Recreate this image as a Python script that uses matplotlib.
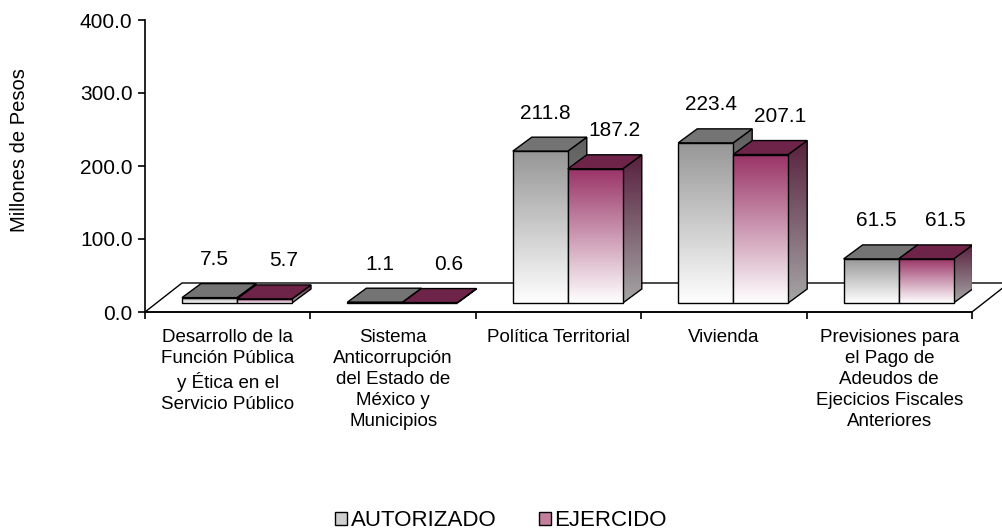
import numpy as np
import matplotlib
matplotlib.use('Agg')
import matplotlib.pyplot as plt
from matplotlib.colors import LinearSegmentedColormap
from matplotlib.patches import Polygon, Patch

plt.rcParams['font.family'] = ['Liberation Sans', 'DejaVu Sans']

# datos
categorias = ['Desarrollo de la\nFunción Pública\ny Ética en el\nServicio Público',
              'Sistema\nAnticorrupción\ndel Estado de\nMéxico y\nMunicipios',
              'Política Territorial',
              'Vivienda',
              'Previsiones para\nel Pago de\nAdeudos de\nEjecicios Fiscales\nAnteriores']
autorizado = [7.5, 1.1, 211.8, 223.4, 61.5]
ejercido = [5.7, 0.6, 187.2, 207.1, 61.5]
series = ['AUTORIZADO', 'EJERCIDO']

W, H = 1002, 531
fig = plt.figure(figsize=(W / 100, H / 100), dpi=100)
ax = fig.add_axes([145 / W, 1 - 312 / H, 827 / W, 292 / H])
ax.set_xlim(0, 5)
ax.set_ylim(0, 400)

# conversion de pixeles a unidades de datos
px = 5 / 827
py = 400 / 292

# profundidad de barras y piso
bdx, bdy = 19 * px, 14 * py
fdx, fdy = 37 * px, 29 * py
base = 9 * py          # base de las barras (frente)
escala = 0.982         # perspectiva
ancho = 55 * px
inicio = 37 * px

# piso
piso = Polygon([(0, 0), (5, 0), (5 + fdx, fdy), (fdx, fdy)], closed=True,
               facecolor='white', edgecolor='black', lw=1.0, clip_on=False, zorder=1)
ax.add_patch(piso)

colores = {
    'AUTORIZADO': dict(front=('#ffffff', '#969696'), top='#747474', side=('#a8a8a8', '#5e5e5e')),
    'EJERCIDO': dict(front=('#ffffff', '#993366'), top='#6e2448', side=('#a6a6a6', '#58203e')),
}

grad = np.linspace(0, 1, 256).reshape(-1, 1)


def cara_grad(poly, c0, c1, z):
    xs = [p[0] for p in poly]
    ys = [p[1] for p in poly]
    cmap = LinearSegmentedColormap.from_list('g', [c0, c1])
    im = ax.imshow(grad, extent=[min(xs), max(xs), min(ys), max(ys)], origin='lower',
                   aspect='auto', cmap=cmap, zorder=z, interpolation='bilinear')
    pol = Polygon(poly, closed=True, facecolor='none', edgecolor='black', lw=1.0, zorder=z + 0.01)
    ax.add_patch(pol)
    im.set_clip_path(pol)


def barra(x0, v, nombre, z):
    c = colores[nombre]
    y0 = base
    y1 = base + v * escala
    x1 = x0 + ancho
    lado = [(x1, y0), (x1 + bdx, y0 + bdy), (x1 + bdx, y1 + bdy), (x1, y1)]
    cara_grad(lado, c['side'][0], c['side'][1], z)
    tapa = Polygon([(x0, y1), (x1, y1), (x1 + bdx, y1 + bdy), (x0 + bdx, y1 + bdy)], closed=True,
                   facecolor=c['top'], edgecolor='black', lw=1.0, zorder=z + 0.02)
    ax.add_patch(tapa)
    frente = [(x0, y0), (x1, y0), (x1, y1), (x0, y1)]
    cara_grad(frente, c['front'][0], c['front'][1], z + 0.03)
    return y1 + bdy


z = 2
for i in range(len(categorias)):
    xa = i + inicio
    xe = xa + ancho
    ta = barra(xa, autorizado[i], 'AUTORIZADO', z)
    te = barra(xe, ejercido[i], 'EJERCIDO', z + 0.1)
    z += 0.2
    ax.text(xa + ancho / 2 + 5 * px, ta + 24 * py, f'{autorizado[i]:.1f}',
            ha='center', va='center', fontsize=15, zorder=10)
    ax.text(xe + ancho / 2 + bdx, te + 24 * py, f'{ejercido[i]:.1f}',
            ha='center', va='center', fontsize=15, zorder=10)

# ejes
ax.spines['top'].set_visible(False)
ax.spines['right'].set_visible(False)
ax.spines['left'].set_linewidth(1.2)
ax.spines['bottom'].set_linewidth(1.2)
ax.set_yticks(np.arange(0, 401, 100))
ax.set_yticklabels([f'{t:.1f}' for t in np.arange(0, 401, 100)], fontsize=15)
ax.tick_params(axis='y', direction='out', length=5, width=1.2, pad=4)
ax.set_xticks(np.arange(len(categorias)) + 0.5)
ax.set_xticklabels(categorias, fontsize=13.5, linespacing=1.32, va='top')
ax.tick_params(axis='x', which='major', length=0, pad=12)
ax.set_xticks(np.arange(0, 6), minor=True)
ax.tick_params(axis='x', which='minor', direction='out', length=5, width=1.2)

fig.text(20 / W, 1 - 150 / H, 'Millones de Pesos', rotation=90, ha='center', va='center', fontsize=14.5)

handles = [Patch(facecolor='#cfcfcf', edgecolor='black', label=series[0]),
           Patch(facecolor='#c47f9f', edgecolor='black', label=series[1])]
fig.legend(handles=handles, loc='center', bbox_to_anchor=(0.5, 10 / H), ncol=2, frameon=False,
           fontsize=16, handlelength=0.55, handleheight=0.55, handletextpad=0.15, columnspacing=1.9)

ax.set_xlim(0, 5)
ax.set_ylim(0, 400)
fig.savefig('out.png', dpi=100)
